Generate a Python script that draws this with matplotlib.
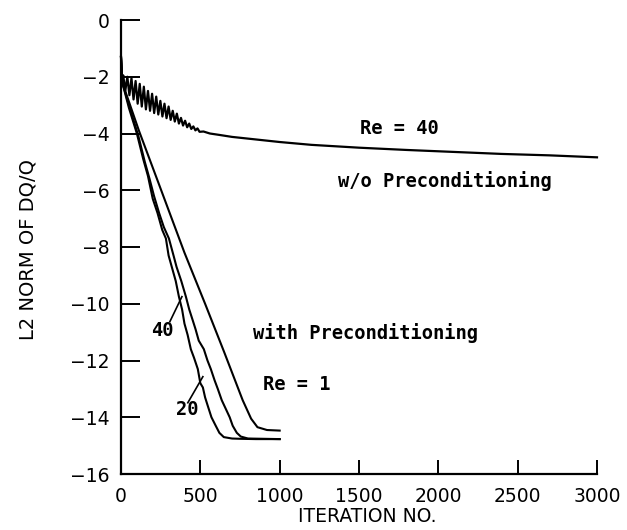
import matplotlib
matplotlib.use("Agg")
import matplotlib.pyplot as plt
from matplotlib import font_manager

# ---------------- data ----------------
# Re = 40 without preconditioning (oscillating start, slow decay)
iter_noprec = [0, 8, 14, 27, 40, 53, 66, 79, 92, 105, 118, 131, 144, 157, 170,
               183, 196, 209, 222, 235, 248, 261, 274, 287, 300, 313, 326, 339,
               352, 365, 378, 391, 404, 417, 430, 443, 456, 469, 482, 495, 520,
               560, 620, 700, 800, 1000, 1200, 1500, 1800, 2100, 2400, 2700, 3000]
l2_noprec = [-1.3, -2.2, -1.95, -2.5, -2.0, -2.65, -2.05, -2.8, -2.15, -2.95,
             -2.25, -3.05, -2.35, -3.15, -2.5, -3.2, -2.6, -3.28, -2.7, -3.33,
             -2.85, -3.4, -2.95, -3.46, -3.05, -3.52, -3.2, -3.58, -3.3, -3.65,
             -3.45, -3.72, -3.55, -3.78, -3.65, -3.84, -3.75, -3.89, -3.82, -3.94,
             -3.93, -4.0, -4.05, -4.12, -4.18, -4.3, -4.4, -4.5, -4.58, -4.65,
             -4.72, -4.77, -4.84]

# with preconditioning, Re = 20 (leftmost stair-stepped curve)
iter_re20 = [0, 8, 50, 100, 140, 170, 200, 230, 260, 283, 300, 320, 345, 365,
             385, 400, 420, 440, 460, 484, 500, 516, 530, 547, 570, 597, 620,
             648, 700, 755, 850, 1000]
l2_re20 = [-1.3, -2.2, -3.1, -4.0, -4.9, -5.5, -6.3, -6.8, -7.4, -7.7, -8.3,
           -8.7, -9.2, -9.75, -10.2, -10.7, -11.1, -11.6, -11.9, -12.3, -12.8,
           -12.95, -13.3, -13.6, -14.0, -14.3, -14.55, -14.7, -14.75, -14.76,
           -14.77, -14.77]

# with preconditioning, Re = 40 (middle stair-stepped curve)
iter_re40 = [0, 8, 50, 110, 150, 180, 208, 240, 270, 302, 333, 350, 380, 409,
             430, 453, 470, 490, 522, 545, 566, 590, 610, 635, 660, 685, 704,
             730, 755, 800, 1000]
l2_re40 = [-1.3, -2.2, -3.0, -4.1, -5.0, -5.6, -6.2, -6.8, -7.3, -7.7, -8.34,
           -8.7, -9.2, -9.75, -10.2, -10.6, -10.9, -11.3, -11.6, -12.0, -12.3,
           -12.7, -13.0, -13.4, -13.7, -14.0, -14.3, -14.55, -14.68, -14.75,
           -14.77]

# with preconditioning, Re = 1 (nearly straight line)
iter_re1 = [0, 8, 113, 250, 400, 530, 650, 767, 820, 860, 920, 1000]
l2_re1 = [-1.3, -2.2, -3.9, -5.95, -8.2, -10.0, -11.7, -13.4, -14.05, -14.35,
          -14.45, -14.47]

x_ticks = [0, 500, 1000, 1500, 2000, 2500, 3000]
y_ticks = [0, -2, -4, -6, -8, -10, -12, -14, -16]
y_tick_labels = ["0", "\u22122", "\u22124", "\u22126", "\u22128", "\u221210",
                 "\u221212", "\u221214", "\u221216"]

# ---------------- figure ----------------
names = {f.name for f in font_manager.fontManager.ttflist}
narrow = "Liberation Sans Narrow" if "Liberation Sans Narrow" in names else "DejaVu Sans"
mono = "DejaVu Sans Mono"

fig = plt.figure(figsize=(6.27, 5.30), dpi=100)
ax = fig.add_axes([121 / 627, 1 - 474 / 530, (597 - 121) / 627, (474 - 20) / 530])

lw = 1.5
ax.plot(iter_noprec, l2_noprec, color="black", lw=1.6, clip_on=False)
ax.plot(iter_re20, l2_re20, color="black", lw=lw, clip_on=False)
ax.plot(iter_re40, l2_re40, color="black", lw=lw, clip_on=False)
ax.plot(iter_re1, l2_re1, color="black", lw=lw, clip_on=False)

ax.set_xlim(0, 3000)
ax.set_ylim(-16, 0)
ax.set_xticks(x_ticks)
ax.set_yticks(y_ticks)
ax.set_yticklabels(y_tick_labels)
for s in ["top", "right"]:
    ax.spines[s].set_visible(False)
for s in ["left", "bottom"]:
    ax.spines[s].set_linewidth(1.6)
ax.tick_params(axis="x", direction="in", length=10, width=1.4, pad=9,
               labelsize=13.5)
ax.tick_params(axis="y", direction="in", length=14, width=1.4, pad=8,
               labelsize=13.5)

# axis labels
fig.text(367 / 627, 1 - 517 / 530, "ITERATION NO.", ha="center", va="center",
         fontsize=13.5)
fig.text(28 / 627, 1 - 250 / 530, "L2 NORM OF DQ/Q", ha="center", va="center",
         rotation=90, fontsize=14, family=[narrow, "DejaVu Sans"])

# annotations
tkw = dict(family=mono, fontsize=13.5, fontweight="bold", color="black")
ax.text(1755, -3.84, "Re = 40", ha="center", va="center", **tkw)
ax.text(1365, -5.67, "w/o Preconditioning", ha="left", va="center", **tkw)
ax.text(830, -11.02, "with Preconditioning", ha="left", va="center", **tkw)
ax.text(893, -12.85, "Re = 1", ha="left", va="center", **tkw)
ax.text(258, -10.95, "40", ha="center", va="center", **tkw)
ax.text(415, -13.73, "20", ha="center", va="center", **tkw)
ax.plot([308, 384], [-10.63, -9.75], color="black", lw=1.2)
ax.plot([421, 516], [-13.49, -12.57], color="black", lw=1.2)

fig.savefig("out.png", dpi=100)
